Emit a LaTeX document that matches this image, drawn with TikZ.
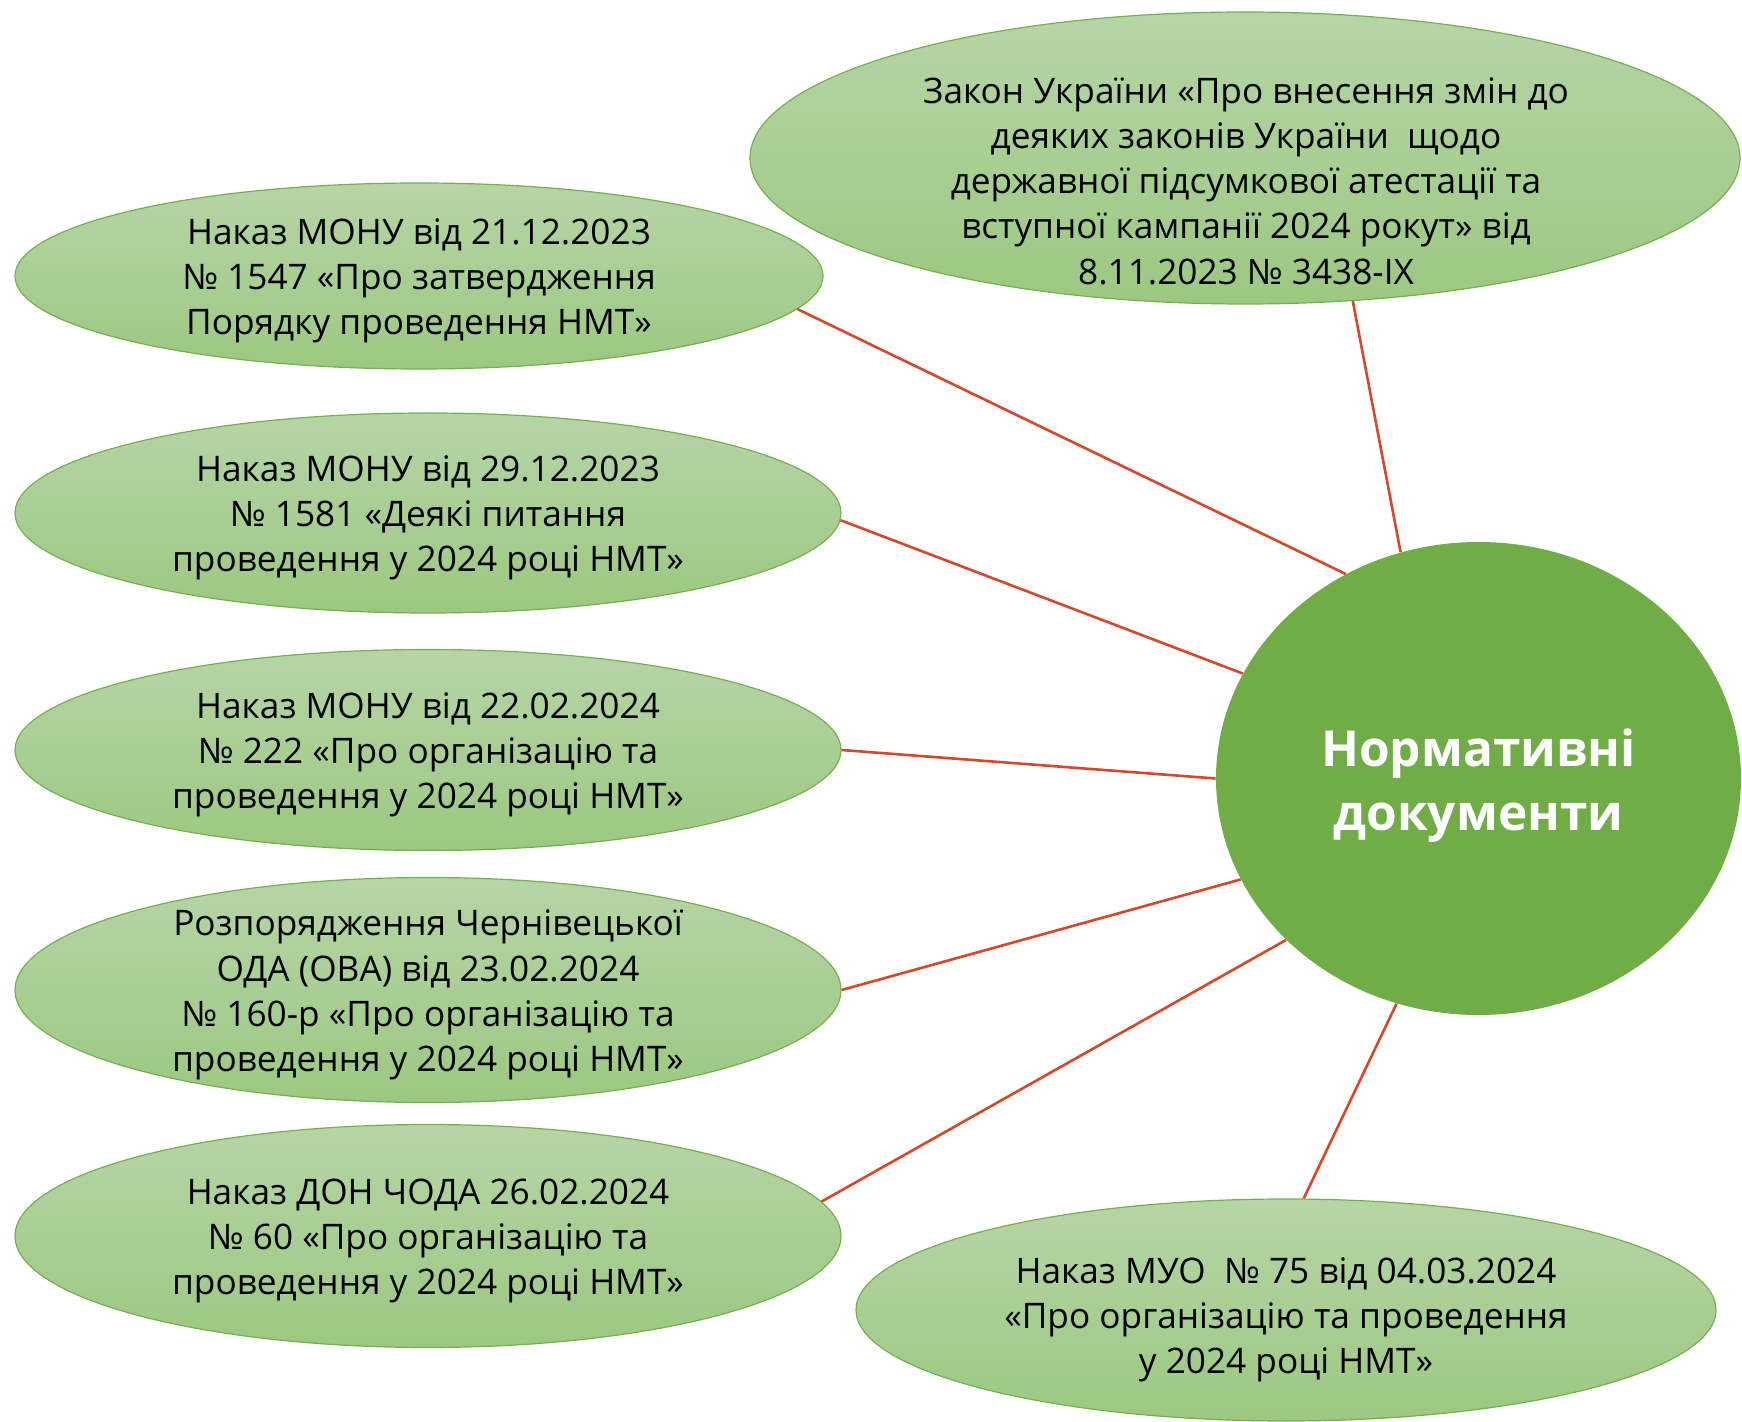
\documentclass[tikz,border=0pt]{standalone}
\usepackage{fontspec}
\setmainfont{Open Sans}
\usetikzlibrary{shapes.geometric}
\definecolor{leafedge}{RGB}{118,176,78}
\definecolor{leaftop}{RGB}{182,213,166}
\definecolor{leafbot}{RGB}{156,200,129}
\definecolor{hub}{RGB}{112,173,71}
\definecolor{linkc}{RGB}{214,72,40}
\begin{document}
\begin{tikzpicture}[x=0.5pt,y=-0.5pt,
  leaf/.style={ellipse, draw=leafedge, line width=0.6pt, top color=leaftop, bottom color=leafbot, inner sep=0pt},
  hubnode/.style={ellipse, fill=hub, inner sep=0pt},
  lbl/.style={align=center, text=black, inner sep=0pt, font=\fontsize{17.6}{22.6}\selectfont},
  hublbl/.style={align=center, text=white, inner sep=0pt, font=\fontsize{24.8}{32}\selectfont\bfseries},
  link/.style={draw=linkc, line width=1.3pt}]
\useasboundingbox (0,0) rectangle (1742,1422);

\node[leaf, minimum width=495pt, minimum height=146pt] (e1) at (1245,158) {};
\node[leaf, minimum width=404pt, minimum height=93pt] (e2) at (419,276) {};
\node[leaf, minimum width=413pt, minimum height=100pt] (e3) at (428,513) {};
\node[leaf, minimum width=413pt, minimum height=100.5pt] (e4) at (428,750) {};
\node[leaf, minimum width=413pt, minimum height=112.5pt] (e5) at (428,990) {};
\node[leaf, minimum width=413pt, minimum height=111.5pt] (e6) at (428,1236) {};
\node[leaf, minimum width=430pt, minimum height=111pt] (e7) at (1286,1310) {};
\node[hubnode, minimum width=262.5pt, minimum height=236.5pt] (c) at (1478.5,778.5) {};

\node[lbl] (t1) at (1246,181) {Закон України «Про внесення змін до\\деяких законів України\ \ щодо\\державної підсумкової атестації та\\вступної кампанії 2024 рокут» від\\8.11.2023 № 3438-IX};
\node[lbl] (t2) at ([yshift=-2.5pt]e2.center) {Наказ МОНУ від 21.12.2023\\№ 1547 «Про затвердження\\Порядку проведення НМТ»};
\node[lbl] (t3) at ([yshift=-2.5pt]e3.center) {Наказ МОНУ від 29.12.2023\\№ 1581 «Деякі питання\\проведення у 2024 році НМТ»};
\node[lbl] (t4) at ([yshift=-2.5pt]e4.center) {Наказ МОНУ від 22.02.2024\\№ 222 «Про організацію та\\проведення у 2024 році НМТ»};
\node[lbl] (t5) at ([yshift=-2.5pt]e5.center) {Розпорядження Чернівецької\\ОДА (ОВА) від 23.02.2024\\№ 160-р «Про організацію та\\проведення у 2024 році НМТ»};
\node[lbl] (t6) at ([yshift=-2.5pt]e6.center) {Наказ ДОН ЧОДА 26.02.2024\\№ 60 «Про організацію та\\проведення у 2024 році НМТ»};
\node[lbl] (t7) at ([yshift=-5pt]e7.center) {Наказ МУО\ \ № 75 від 04.03.2024\\«Про організацію та проведення\\у 2024 році НМТ»};
\node[hublbl] (tc) at ([yshift=-3.5pt]c.center) {Нормативні\\документи};

\draw[link] (e1.-53) -- (c.109);
\draw[link] (e2.-5) -- (c.123.5);
\draw[link] (e3.-1.5) -- (c.156.5);
\draw[link] (e4.0) -- (c.180);
\draw[link] (e5.0) -- (c.203.5);
\draw[link] (e6.5.5) -- (c.220.2);
\draw[link] (e7.81.8) -- (c.250.9);
\end{tikzpicture}
\end{document}
